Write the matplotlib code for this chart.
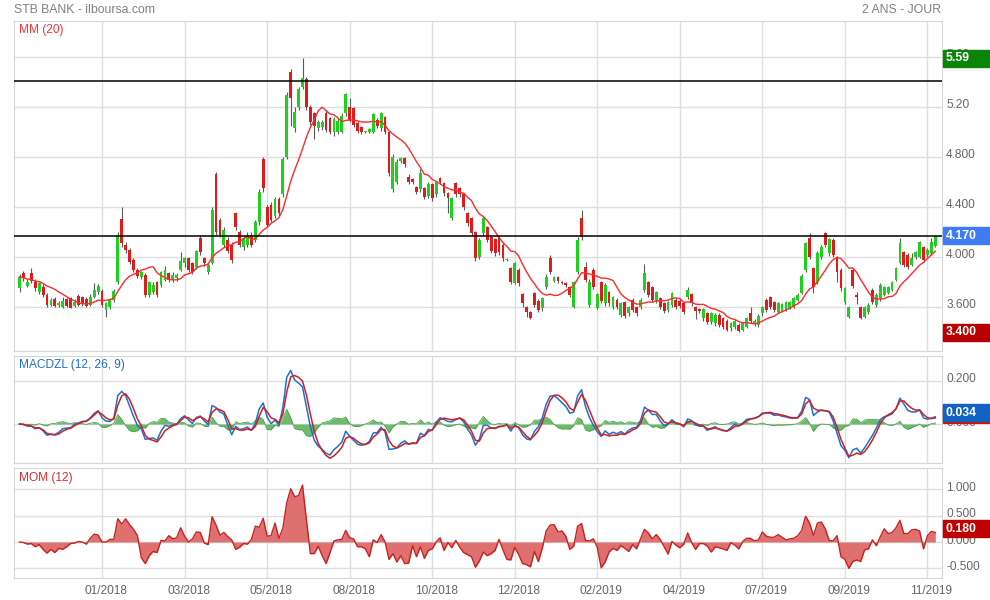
import matplotlib

matplotlib.use("Agg")
import matplotlib.pyplot as plt
import numpy as np
import pandas as pd
from matplotlib.patches import Rectangle
from matplotlib.transforms import ScaledTranslation, blended_transform_factory

plt.rcParams["font.family"] = ["Liberation Sans", "DejaVu Sans"]
plt.rcParams["font.size"] = 8.6

# one candle = two trading days
OPEN = [
    3.75, 3.87, 3.77, 3.87, 3.80, 3.72, 3.76, 3.70, 3.62, 3.66,
    3.62, 3.60, 3.66, 3.67, 3.61, 3.69, 3.68, 3.66, 3.62, 3.68,
    3.72, 3.73, 3.58, 3.60, 3.66, 3.80, 4.30, 4.10, 4.06, 3.98,
    3.90, 3.84, 3.86, 3.70, 3.72, 3.80, 3.78, 3.82, 3.87, 3.82,
    3.83, 3.90, 3.95, 3.99, 3.95, 3.92, 4.15, 3.99, 3.88, 3.95,
    4.66, 4.30, 4.10, 4.14, 4.10, 4.35, 4.20, 4.08, 4.10, 4.18,
    4.14, 4.28, 4.78, 4.40, 4.42, 4.33, 4.46, 4.50, 4.80, 5.48,
    5.03, 5.20, 5.36, 5.42, 5.20, 5.15, 5.03, 5.04, 5.15, 5.11,
    5.00, 5.00, 5.00, 5.15, 5.20, 5.19, 5.07, 5.04, 5.00, 5.00,
    5.00, 5.10, 5.03, 5.12, 5.00, 4.54, 4.60, 4.77, 4.79, 4.64,
    4.62, 4.56, 4.54, 4.55, 4.49, 4.58, 4.50, 4.63, 4.59, 4.51,
    4.31, 4.59, 4.55, 4.50, 4.35, 4.31, 4.20, 4.00, 4.19, 4.24,
    4.16, 4.14, 4.16, 4.10, 3.98, 3.91, 3.79, 3.90, 3.70, 3.60,
    3.56, 3.71, 3.65, 3.59, 3.76, 3.99, 3.81, 3.84, 3.80, 3.79,
    3.76, 3.60, 3.88, 4.31, 3.92, 3.62, 3.90, 3.59, 3.80, 3.63,
    3.72, 3.60, 3.66, 3.54, 3.64, 3.55, 3.66, 3.60, 3.60, 3.74,
    3.80, 3.76, 3.65, 3.67, 3.63, 3.58, 3.62, 3.66, 3.65, 3.63,
    3.68, 3.70, 3.60, 3.58, 3.51, 3.55, 3.48, 3.47, 3.54, 3.51,
    3.49, 3.43, 3.44, 3.46, 3.42, 3.44, 3.55, 3.47, 3.46, 3.55,
    3.66, 3.68, 3.64, 3.56, 3.57, 3.58, 3.59, 3.60, 3.66, 3.71,
    3.90, 4.15, 3.91, 3.80, 4.00, 4.19, 4.03, 4.14, 4.00, 3.90,
    3.64, 3.52, 3.90, 3.70, 3.60, 3.52, 3.56, 3.74, 3.62, 3.67,
    3.70, 3.71, 3.74, 3.82, 3.95, 4.04, 4.02, 3.94, 4.00, 4.00,
    4.08, 4.02, 4.03, 4.09,
]
HIGH = [
    3.86, 3.89, 3.82, 3.91, 3.82, 3.80, 3.78, 3.71, 3.67, 3.68,
    3.65, 3.68, 3.67, 3.68, 3.66, 3.70, 3.69, 3.68, 3.70, 3.79,
    3.78, 3.74, 3.64, 3.67, 3.74, 4.20, 4.40, 4.12, 4.07, 3.99,
    3.91, 3.89, 3.87, 3.81, 3.80, 3.81, 3.89, 3.93, 3.88, 3.88,
    3.87, 4.04, 4.00, 4.00, 3.96, 4.06, 4.18, 4.00, 3.95, 4.40,
    4.68, 4.31, 4.24, 4.16, 4.12, 4.36, 4.22, 4.17, 4.20, 4.20,
    4.30, 4.54, 4.80, 4.42, 4.44, 4.48, 4.48, 4.80, 5.32, 5.50,
    5.20, 5.36, 5.59, 5.44, 5.22, 5.16, 5.10, 5.10, 5.17, 5.12,
    5.12, 5.11, 5.15, 5.31, 5.27, 5.20, 5.09, 5.05, 5.01, 5.03,
    5.15, 5.11, 5.16, 5.13, 5.01, 4.82, 4.78, 4.80, 4.80, 4.66,
    4.63, 4.57, 4.70, 4.56, 4.60, 4.59, 4.61, 4.64, 4.60, 4.52,
    4.48, 4.60, 4.56, 4.51, 4.36, 4.32, 4.21, 4.15, 4.32, 4.25,
    4.17, 4.15, 4.17, 4.11, 3.99, 3.92, 3.96, 3.91, 3.71, 3.61,
    3.57, 3.72, 3.66, 3.68, 3.86, 4.02, 3.85, 3.85, 3.81, 3.80,
    3.77, 3.81, 4.16, 4.38, 3.96, 3.82, 3.91, 3.71, 3.81, 3.79,
    3.73, 3.69, 3.67, 3.64, 3.65, 3.61, 3.67, 3.61, 3.67, 3.94,
    3.81, 3.77, 3.73, 3.68, 3.64, 3.65, 3.72, 3.67, 3.66, 3.64,
    3.76, 3.71, 3.61, 3.59, 3.59, 3.56, 3.56, 3.55, 3.55, 3.52,
    3.50, 3.48, 3.50, 3.47, 3.48, 3.52, 3.60, 3.50, 3.54, 3.61,
    3.67, 3.69, 3.65, 3.64, 3.63, 3.65, 3.65, 3.68, 3.71, 3.86,
    4.12, 4.19, 3.92, 4.05, 4.10, 4.20, 4.15, 4.15, 4.01, 3.91,
    3.76, 3.61, 3.91, 3.72, 3.61, 3.61, 3.63, 3.75, 3.71, 3.79,
    3.77, 3.77, 3.81, 3.92, 4.15, 4.05, 4.03, 4.03, 4.05, 4.13,
    4.09, 4.07, 4.15, 4.18,
]
LOW = [
    3.72, 3.81, 3.76, 3.79, 3.73, 3.70, 3.68, 3.60, 3.61, 3.60,
    3.60, 3.59, 3.60, 3.59, 3.60, 3.61, 3.61, 3.60, 3.61, 3.67,
    3.70, 3.60, 3.52, 3.58, 3.64, 3.78, 4.08, 4.03, 3.94, 3.88,
    3.83, 3.82, 3.68, 3.68, 3.70, 3.68, 3.76, 3.81, 3.80, 3.80,
    3.81, 3.89, 3.92, 3.88, 3.86, 3.90, 4.02, 3.93, 3.86, 3.94,
    4.18, 4.16, 4.08, 4.03, 3.95, 4.22, 4.08, 4.06, 4.08, 4.08,
    4.12, 4.26, 4.52, 4.24, 4.28, 4.31, 4.33, 4.48, 4.78, 5.05,
    5.00, 5.18, 5.34, 5.18, 5.06, 4.94, 5.01, 5.02, 5.00, 4.98,
    4.97, 4.98, 4.99, 5.13, 5.08, 5.04, 4.99, 4.98, 4.99, 4.99,
    4.99, 5.03, 5.01, 4.98, 4.65, 4.52, 4.58, 4.75, 4.72, 4.58,
    4.58, 4.50, 4.52, 4.46, 4.47, 4.45, 4.48, 4.58, 4.49, 4.35,
    4.30, 4.48, 4.48, 4.38, 4.25, 4.17, 3.97, 3.98, 4.17, 4.12,
    4.03, 4.01, 4.02, 3.97, 3.97, 3.78, 3.78, 3.77, 3.60, 3.52,
    3.50, 3.60, 3.56, 3.57, 3.74, 3.86, 3.80, 3.79, 3.78, 3.76,
    3.68, 3.59, 3.86, 4.14, 3.80, 3.60, 3.74, 3.58, 3.63, 3.61,
    3.61, 3.58, 3.58, 3.52, 3.51, 3.53, 3.56, 3.53, 3.58, 3.72,
    3.68, 3.64, 3.63, 3.58, 3.55, 3.56, 3.60, 3.58, 3.59, 3.54,
    3.66, 3.61, 3.50, 3.55, 3.49, 3.46, 3.46, 3.45, 3.44, 3.42,
    3.41, 3.41, 3.42, 3.40, 3.41, 3.43, 3.47, 3.45, 3.44, 3.53,
    3.56, 3.58, 3.56, 3.55, 3.56, 3.57, 3.58, 3.59, 3.65, 3.70,
    3.88, 3.98, 3.71, 3.78, 3.98, 4.08, 4.01, 4.00, 3.80, 3.73,
    3.62, 3.51, 3.75, 3.62, 3.50, 3.51, 3.54, 3.62, 3.60, 3.65,
    3.69, 3.70, 3.73, 3.81, 3.94, 3.92, 3.90, 3.93, 3.98, 3.99,
    3.96, 4.00, 4.02, 4.08,
]
CLOSE = [
    3.84, 3.83, 3.80, 3.81, 3.75, 3.79, 3.70, 3.62, 3.66, 3.61,
    3.63, 3.65, 3.61, 3.59, 3.64, 3.62, 3.63, 3.61, 3.68, 3.74,
    3.77, 3.62, 3.63, 3.66, 3.73, 4.18, 4.11, 4.06, 3.96, 3.90,
    3.85, 3.88, 3.70, 3.80, 3.78, 3.70, 3.88, 3.90, 3.82, 3.86,
    3.86, 3.97, 3.99, 3.90, 3.88, 4.05, 4.04, 3.95, 3.94, 4.38,
    4.20, 4.18, 4.22, 4.05, 3.98, 4.24, 4.10, 4.15, 4.18, 4.10,
    4.28, 4.52, 4.55, 4.26, 4.30, 4.46, 4.35, 4.78, 5.30, 5.27,
    5.16, 5.34, 5.43, 5.20, 5.08, 5.05, 5.08, 5.08, 5.02, 5.00,
    5.10, 5.09, 5.13, 5.30, 5.10, 5.06, 5.01, 5.00, 5.00, 5.02,
    5.14, 5.05, 5.15, 5.00, 4.67, 4.80, 4.76, 4.79, 4.74, 4.60,
    4.60, 4.52, 4.67, 4.48, 4.58, 4.47, 4.60, 4.60, 4.51, 4.47,
    4.47, 4.50, 4.50, 4.40, 4.27, 4.19, 3.99, 4.14, 4.31, 4.14,
    4.05, 4.03, 4.04, 3.99, 3.98, 3.80, 3.95, 3.79, 3.63, 3.56,
    3.51, 3.62, 3.58, 3.67, 3.84, 3.88, 3.84, 3.81, 3.79, 3.78,
    3.70, 3.80, 4.14, 4.16, 3.82, 3.80, 3.76, 3.70, 3.65, 3.78,
    3.63, 3.68, 3.60, 3.63, 3.53, 3.60, 3.58, 3.55, 3.66, 3.87,
    3.70, 3.66, 3.72, 3.60, 3.57, 3.64, 3.71, 3.60, 3.61, 3.56,
    3.74, 3.63, 3.57, 3.57, 3.58, 3.48, 3.55, 3.54, 3.46, 3.44,
    3.42, 3.47, 3.49, 3.41, 3.47, 3.51, 3.49, 3.49, 3.53, 3.60,
    3.58, 3.60, 3.58, 3.63, 3.62, 3.64, 3.64, 3.67, 3.70, 3.85,
    4.11, 4.00, 3.76, 4.03, 4.08, 4.10, 4.14, 4.02, 3.88, 3.75,
    3.75, 3.60, 3.77, 3.68, 3.51, 3.60, 3.62, 3.64, 3.70, 3.78,
    3.76, 3.76, 3.80, 3.91, 4.11, 3.94, 3.92, 3.99, 4.04, 4.12,
    3.98, 4.06, 4.12, 4.17,
]

MONTH_LABELS = [
    "01/2018", "03/2018", "05/2018", "08/2018", "10/2018", "12/2018",
    "02/2019", "04/2019", "07/2019", "09/2019", "11/2019",
]
PRICE_TICKS = [3.6, 4.0, 4.4, 4.8, 5.2, 5.6]
PRICE_TICK_LABELS = ["3.600", "4.000", "4.400", "4.800", "5.20", "5.60"]
LEVELS = [5.41, 4.165]
MACD_TICKS = [0.0, 0.2]
MOM_TICKS = [-0.5, 0.0, 0.5, 1.0]

DAYS_PER_BAR = 2
BARS_PER_GRID = 21

W, H = 990, 600
GREEN = "#1fd11f"
RED = "#e01b1b"
GRID = "#dedede"


def ema(values, span_days):
    alpha = 1 - (1 - 2 / (span_days + 1)) ** DAYS_PER_BAR
    return pd.Series(values).ewm(alpha=alpha, adjust=False).mean().to_numpy()


def zlema(values, span_days):
    first = ema(values, span_days)
    return 2 * first - ema(first, span_days)


def px_axes(fig, left, top, right, bottom):
    return fig.add_axes(
        [left / W, 1 - bottom / H, (right - left) / W, (bottom - top) / H]
    )


def style_panel(fig, ax, n_bars, yticks, ylabels, ylim):
    ax.set_xlim(-1.4, n_bars + 0.7)
    ax.set_ylim(*ylim)
    for spine in ax.spines.values():
        spine.set_color("#d6d6d6")
    ax.grid(True, color=GRID, linewidth=1)
    ax.set_axisbelow(True)
    ax.yaxis.tick_right()
    ax.set_xticks(np.arange(BARS_PER_GRID, n_bars, BARS_PER_GRID))
    ax.set_xticklabels([])
    ax.set_yticks(yticks)
    ax.set_yticklabels(ylabels)
    ax.tick_params(length=0, labelcolor="#666666", labelsize=8.6, pad=3)
    shift = ScaledTranslation(0, 0.03, fig.dpi_scale_trans)
    for label in ax.get_yticklabels():
        label.set_transform(label.get_transform() + shift)


def value_box(fig, ax, value, text, color, dy=0.0):
    blend = blended_transform_factory(ax.transAxes, ax.transData)
    anchor = fig.dpi_scale_trans + ScaledTranslation(1.0, value, blend)
    fig.add_artist(
        Rectangle((0.01, -0.085 + dy), 0.5, 0.17, transform=anchor, color=color)
    )
    if text:
        fig.text(
            0.04, dy, text, transform=anchor, color="white", fontweight="bold",
            fontsize=8.8, va="center", ha="left",
        )


def main():
    o = np.array(OPEN)
    h = np.array(HIGH)
    lo = np.array(LOW)
    c = np.array(CLOSE)
    x = np.arange(len(c))
    n = len(c)

    ma20 = pd.Series(c).rolling(20 // DAYS_PER_BAR, min_periods=1).mean()
    macd = zlema(c, 12) - zlema(c, 26)
    signal = zlema(macd, 9)
    hist = macd - signal
    mom = c - c[np.maximum(x - 12 // DAYS_PER_BAR, 0)]

    fig = plt.figure(figsize=(W / 100, H / 100), dpi=100)
    ax = px_axes(fig, 14, 21, 942, 351)
    ax_macd = px_axes(fig, 14, 356, 942, 463)
    ax_mom = px_axes(fig, 14, 468, 942, 578)

    style_panel(fig, ax, n, PRICE_TICKS, PRICE_TICK_LABELS, (3.248, 5.888))
    style_panel(fig, ax_macd, n, MACD_TICKS, [f"{t:.3f}" for t in MACD_TICKS],
                (-0.181, 0.316))
    style_panel(fig, ax_mom, n, MOM_TICKS, [f"{t:.3f}" for t in MOM_TICKS],
                (-0.683, 1.404))

    # candles
    up = c >= o
    ax.vlines(x, lo, h, color="#5a5a5a", linewidth=0.8, zorder=2)
    body = np.maximum(np.abs(c - o), 0.008)
    ax.bar(x, body, bottom=np.minimum(o, c), width=0.72,
           color=np.where(up, GREEN, RED), linewidth=0, zorder=3)
    ax.plot(x, ma20, color="#ff2a2a", linewidth=1.0, zorder=4)
    for level in LEVELS:
        ax.axhline(level, color="black", linewidth=1.1, zorder=5)

    # MACD zero lag
    ax_macd.fill_between(x, 0, hist, color="#55b055", alpha=0.85, linewidth=0)
    ax_macd.plot(x, hist, color="#4a9e4a", linewidth=0.6)
    ax_macd.plot(x, macd, color="#1f70d6", linewidth=1.1)
    ax_macd.plot(x, signal, color="#d21f1f", linewidth=1.1)

    # momentum
    ax_mom.fill_between(x, 0, mom, color="#de7070", linewidth=0)
    ax_mom.plot(x, mom, color="#cc1f1f", linewidth=1.0)

    ax_mom.set_xticklabels(MONTH_LABELS)
    ax_mom.tick_params(axis="x", pad=5)
    shift = ScaledTranslation(0.04, 0, fig.dpi_scale_trans)
    for label in ax_mom.get_xticklabels():
        label.set_transform(label.get_transform() + shift)

    # texts
    fig.text(14 / W, 1 - 12.7 / H, "STB BANK - ilboursa.com", color="#808080",
             va="baseline", fontsize=8.8)
    fig.text(941 / W, 1 - 12.7 / H, "2 ANS - JOUR", color="#808080",
             va="baseline", ha="right", fontsize=8.8)
    fig.text(19 / W, 1 - 33.3 / H, "MM (20)", color="#ff3030", va="baseline")
    fig.text(19 / W, 1 - 368.3 / H, "MACDZL (12, 26, 9)", color="#1f6fc8",
             va="baseline")
    fig.text(19 / W, 1 - 481 / H, "MOM (12)", color="#d23030", va="baseline")

    # last / extreme value boxes
    value_box(fig, ax, h.max(), f"{h.max():.2f}", "#0a850a")
    value_box(fig, ax, c[-1], f"{c[-1]:.3f}", "#3f7bf2")
    value_box(fig, ax, lo.min(), f"{lo.min():.3f}", "#b80000")
    value_box(fig, ax_macd, macd[-1], "", "#d01010", dy=0.02)
    value_box(fig, ax_macd, macd[-1], f"{macd[-1]:.3f}", "#1262c4", dy=0.04)
    value_box(fig, ax_mom, mom[-1], f"{mom[-1]:.3f}", "#c00000", dy=0.04)

    fig.savefig("out.png", dpi=100)


if __name__ == "__main__":
    main()
